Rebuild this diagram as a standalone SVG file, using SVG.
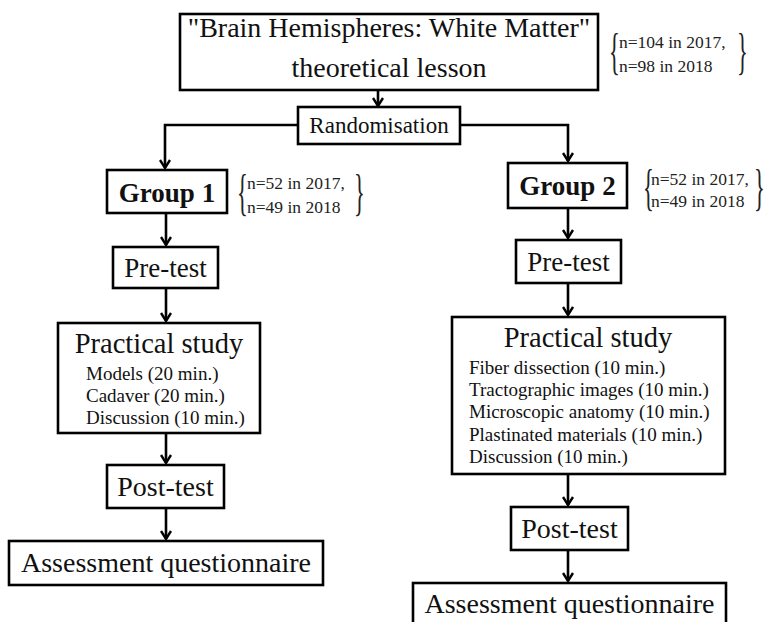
<svg xmlns="http://www.w3.org/2000/svg" width="765" height="622" viewBox="0 0 765 622">
<style>
.box{fill:#fff;stroke:#000;stroke-width:2.6}
.t{font-family:"Liberation Serif","Times New Roman",serif;fill:#111}
.c{text-anchor:middle}
.b{font-weight:bold}
.ln{fill:none;stroke:#000;stroke-width:2.6}
.br{font-family:"Liberation Serif","Times New Roman",serif;fill:#222;font-size:50px}
.n{font-family:"Liberation Serif","Times New Roman",serif;fill:#222;font-size:17.5px}
</style>
<defs>
<marker id="ah" markerWidth="12" markerHeight="12" refX="9" refY="6" orient="auto" markerUnits="userSpaceOnUse">
<polyline points="1,1 9,6 1,11" fill="none" stroke="#000" stroke-width="2.4"/>
</marker>
</defs>
<rect width="765" height="622" fill="#fff"/>
<g id="connectors">
<line class="ln" x1="378" y1="90" x2="378" y2="106" marker-end="url(#ah)"/>
<polyline class="ln" points="298,125 165,125 165,168" marker-end="url(#ah)"/>
<polyline class="ln" points="460,125 568,125 568,161" marker-end="url(#ah)"/>
<line class="ln" x1="166" y1="213" x2="166" y2="245" marker-end="url(#ah)"/>
<line class="ln" x1="166" y1="288" x2="166" y2="321" marker-end="url(#ah)"/>
<line class="ln" x1="166" y1="433" x2="166" y2="463" marker-end="url(#ah)"/>
<line class="ln" x1="166" y1="508" x2="166" y2="539" marker-end="url(#ah)"/>
<line class="ln" x1="568" y1="208" x2="568" y2="238" marker-end="url(#ah)"/>
<line class="ln" x1="568" y1="283" x2="568" y2="315" marker-end="url(#ah)"/>
<line class="ln" x1="568" y1="474" x2="568" y2="505" marker-end="url(#ah)"/>
<line class="ln" x1="568" y1="550" x2="568" y2="581" marker-end="url(#ah)"/>
</g>
<g id="lesson">
<rect class="box" x="180" y="14" width="418" height="76"/>
<text class="t c" x="389" y="37" font-size="28">"Brain Hemispheres: White Matter"</text>
<text class="t c" x="389" y="77" font-size="28">theoretical lesson</text>
</g>
<g id="lesson-n">
<text class="br" transform="translate(609,68) scale(0.45,1)">{</text>
<text class="n" x="619" y="48">n=104 in 2017,</text>
<text class="n" x="619" y="72">n=98 in 2018</text>
<text class="br" transform="translate(737,68) scale(0.45,1)">}</text>
</g>
<g id="randomisation">
<rect class="box" x="298" y="107" width="162" height="37"/>
<text class="t c" x="379" y="133" font-size="23">Randomisation</text>
</g>
<g id="group1">
<rect class="box" x="107" y="170" width="120" height="43"/>
<text class="t c b" x="167" y="202" font-size="27">Group 1</text>
</g>
<g id="group1-n">
<text class="br" transform="translate(237,209) scale(0.45,1)">{</text>
<text class="n" x="247" y="189">n=52 in 2017,</text>
<text class="n" x="247" y="213">n=49 in 2018</text>
<text class="br" transform="translate(354,209) scale(0.45,1)">}</text>
</g>
<g id="pretest1">
<rect class="box" x="113" y="247" width="105" height="41"/>
<text class="t c" x="165.5" y="277" font-size="27">Pre-test</text>
</g>
<g id="practical1">
<rect class="box" x="58" y="323" width="202" height="110"/>
<text class="t c" x="159" y="353" font-size="28.5">Practical study</text>
<text class="t" x="86" y="380" font-size="19">Models (20 min.)</text>
<text class="t" x="86" y="402" font-size="19">Cadaver (20 min.)</text>
<text class="t" x="86" y="424" font-size="19">Discussion (10 min.)</text>
</g>
<g id="posttest1">
<rect class="box" x="107" y="465" width="117" height="43"/>
<text class="t c" x="165.5" y="496" font-size="28">Post-test</text>
</g>
<g id="assessment1">
<rect class="box" x="9" y="541" width="314" height="44"/>
<text class="t c" x="166" y="572" font-size="28">Assessment questionnaire</text>
</g>
<g id="group2">
<rect class="box" x="508" y="163" width="119" height="45"/>
<text class="t c b" x="567.5" y="195" font-size="27">Group 2</text>
</g>
<g id="group2-n">
<text class="br" transform="translate(643,204) scale(0.45,1)">{</text>
<text class="n" x="651" y="185">n=52 in 2017,</text>
<text class="n" x="651" y="207">n=49 in 2018</text>
<text class="br" transform="translate(754,204) scale(0.45,1)">}</text>
</g>
<g id="pretest2">
<rect class="box" x="516" y="240" width="105" height="43"/>
<text class="t c" x="568.5" y="271" font-size="27">Pre-test</text>
</g>
<g id="practical2">
<rect class="box" x="452" y="317" width="273" height="157"/>
<text class="t c" x="588" y="347" font-size="28.5">Practical study</text>
<text class="t" x="469" y="374" font-size="19">Fiber dissection (10 min.)</text>
<text class="t" x="469" y="396" font-size="19">Tractographic images (10 min.)</text>
<text class="t" x="469" y="418" font-size="19">Microscopic anatomy (10 min.)</text>
<text class="t" x="469" y="441" font-size="19">Plastinated materials (10 min.)</text>
<text class="t" x="469" y="463" font-size="19">Discussion (10 min.)</text>
</g>
<g id="posttest2">
<rect class="box" x="511" y="507" width="117" height="43"/>
<text class="t c" x="569.5" y="538" font-size="28">Post-test</text>
</g>
<g id="assessment2">
<rect class="box" x="413" y="583" width="313" height="44"/>
<text class="t c" x="569.5" y="613" font-size="28">Assessment questionnaire</text>
</g>
</svg>
